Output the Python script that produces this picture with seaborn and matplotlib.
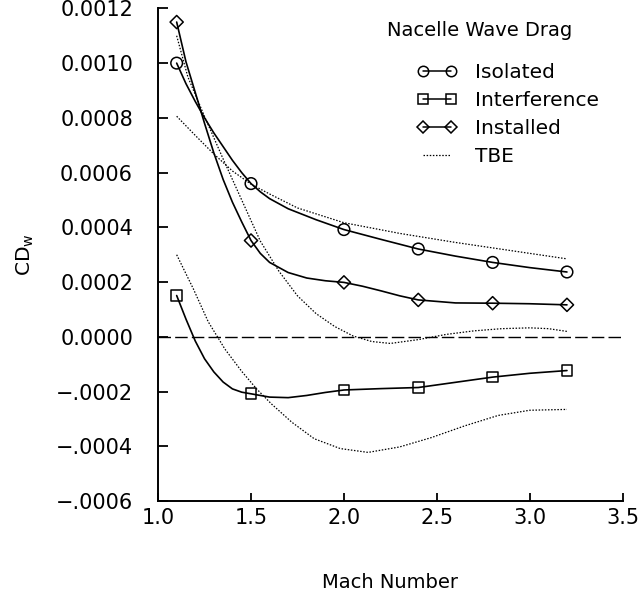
import numpy as np
import pandas as pd
import matplotlib
matplotlib.use('Agg')
import matplotlib.pyplot as plt
from matplotlib.lines import Line2D
import matplotlib.ticker as mticker
import seaborn as sns

sns.set_style('ticks')
plt.rcParams['font.family'] = ['DejaVu Sans']
plt.rcParams['mathtext.fontset'] = 'dejavusans'
for k in ['text.color', 'axes.labelcolor', 'xtick.color', 'ytick.color', 'axes.edgecolor']:
    plt.rcParams[k] = 'black'

# measured points (Mach, CDw)
mach = [1.1, 1.5, 2.0, 2.4, 2.8, 3.2]
isolated = [0.00100, 0.000560, 0.000392, 0.000321, 0.000272, 0.000237]
interference = [0.000151, -0.000208, -0.000194, -0.000185, -0.000147, -0.000123]
installed = [0.00115, 0.000352, 0.000199, 0.000135, 0.000123, 0.000117]

# faired curves through the points (x1e-3)
iso_cx = [1.10, 1.15, 1.20, 1.25, 1.30, 1.35, 1.40, 1.45, 1.50, 1.55, 1.60, 1.70,
          1.85, 2.00, 2.20, 2.40, 2.60, 2.80, 3.00, 3.20]
iso_cy = [1.000, 0.925, 0.860, 0.800, 0.745, 0.695, 0.645, 0.600, 0.560, 0.530,
          0.505, 0.468, 0.428, 0.392, 0.356, 0.321, 0.295, 0.272, 0.253, 0.237]
inst_cx = [1.10, 1.15, 1.20, 1.25, 1.30, 1.35, 1.40, 1.45, 1.50, 1.55, 1.60, 1.70,
           1.80, 1.90, 2.00, 2.10, 2.20, 2.30, 2.40, 2.60, 2.80, 3.00, 3.20]
inst_cy = [1.150, 1.005, 0.893, 0.780, 0.672, 0.575, 0.492, 0.420, 0.352, 0.305,
           0.272, 0.235, 0.215, 0.205, 0.199, 0.185, 0.168, 0.150, 0.135, 0.124,
           0.123, 0.121, 0.117]
intf_cx = [1.10, 1.15, 1.20, 1.25, 1.30, 1.35, 1.40, 1.45, 1.50, 1.60, 1.70, 1.80,
           1.90, 2.00, 2.20, 2.40, 2.60, 2.80, 3.00, 3.20]
intf_cy = [0.151, 0.065, -0.015, -0.080, -0.128, -0.165, -0.190, -0.202, -0.208,
           -0.220, -0.222, -0.214, -0.203, -0.194, -0.189, -0.185, -0.166, -0.147,
           -0.133, -0.123]

# TBE estimates (x1e-3)
tbe_iso_x = [1.10, 1.20, 1.30, 1.40, 1.50, 1.60, 1.75, 2.00, 2.30, 2.60, 2.90, 3.20]
tbe_iso_y = [0.806, 0.736, 0.668, 0.606, 0.558, 0.522, 0.471, 0.417, 0.378, 0.345,
             0.315, 0.285]
tbe_inst_x = [1.10, 1.16, 1.25, 1.35, 1.45, 1.55, 1.65, 1.75, 1.85, 1.95, 2.05, 2.15,
              2.25, 2.40, 2.55, 2.70, 2.85, 3.00, 3.10, 3.20]
tbe_inst_y = [1.100, 0.950, 0.805, 0.650, 0.500, 0.350, 0.240, 0.150, 0.085, 0.038,
              0.003, -0.017, -0.024, -0.010, 0.009, 0.022, 0.030, 0.033, 0.030, 0.020]
tbe_intf_x = [1.10, 1.19, 1.27, 1.36, 1.45, 1.53, 1.61, 1.72, 1.84, 1.98, 2.13, 2.30,
              2.47, 2.65, 2.83, 3.00, 3.20]
tbe_intf_y = [0.300, 0.175, 0.055, -0.045, -0.126, -0.190, -0.245, -0.312, -0.372,
              -0.408, -0.422, -0.402, -0.368, -0.325, -0.287, -0.268, -0.265]

yticks = [-0.0006, -0.0004, -0.0002, 0.0, 0.0002, 0.0004, 0.0006, 0.0008, 0.0010, 0.0012]
xticks = [1.0, 1.5, 2.0, 2.5, 3.0, 3.5]

fig = plt.figure(figsize=(6.4, 5.98), dpi=100)
ax = fig.add_axes([0.247, 0.162, 0.726, 0.824])

solid = dict(color='k', lw=1.2, sort=False, estimator=None, ax=ax)
dotted = dict(color='k', lw=0.9, linestyle=(0, (1.2, 1.3)), sort=False, estimator=None, ax=ax)

sns.lineplot(x=iso_cx, y=np.array(iso_cy) * 1e-3, **solid)
sns.lineplot(x=inst_cx, y=np.array(inst_cy) * 1e-3, **solid)
sns.lineplot(x=intf_cx, y=np.array(intf_cy) * 1e-3, **solid)
sns.lineplot(x=tbe_iso_x, y=np.array(tbe_iso_y) * 1e-3, **dotted)
sns.lineplot(x=tbe_inst_x, y=np.array(tbe_inst_y) * 1e-3, **dotted)
sns.lineplot(x=tbe_intf_x, y=np.array(tbe_intf_y) * 1e-3, **dotted)
ax.axhline(0, color='k', lw=1.0, linestyle=(0, (9, 3)))

mk = dict(facecolors='none', edgecolors='k', linewidths=1.1, zorder=4, ax=ax)
sns.scatterplot(x=mach, y=isolated, marker='o', s=70, **mk)
sns.scatterplot(x=mach, y=interference, marker='s', s=60, **mk)
sns.scatterplot(x=mach, y=installed, marker='D', s=45, **mk)

ax.set_xlim(1.0, 3.5)
ax.set_ylim(-0.0006, 0.0012)
ax.set_xticks(xticks)
ax.set_yticks(yticks)


def yfmt(v, pos):
    if v < -1e-9:
        return '\u2212' + f'{-v:.4f}'[1:]
    return f'{abs(v):.4f}'


ax.yaxis.set_major_formatter(mticker.FuncFormatter(yfmt))
ax.xaxis.set_major_formatter(mticker.FormatStrFormatter('%.1f'))
ax.tick_params(axis='both', direction='in', labelsize=15, width=1.3, color='k')
ax.tick_params(axis='y', length=7, pad=18)
ax.tick_params(axis='x', length=6, pad=5)
sns.despine(ax=ax)
for s in ['left', 'bottom']:
    ax.spines[s].set_linewidth(1.4)
    ax.spines[s].set_color('k')

ax.set_xlabel('Mach Number', fontsize=14, labelpad=32)
ax.set_ylabel(r'CD$_\mathrm{w}$', fontsize=14.5, labelpad=14)

ax.text(0.492, 0.955, 'Nacelle Wave Drag', transform=ax.transAxes,
        fontsize=14, va='center', ha='left')
handles = [
    Line2D([], [], color='k', lw=1.1, marker='o', ms=7.5, mfc='none', mew=1.1),
    Line2D([], [], color='k', lw=1.1, marker='s', ms=7, mfc='none', mew=1.1),
    Line2D([], [], color='k', lw=1.1, marker='D', ms=6, mfc='none', mew=1.1),
    Line2D([], [], color='k', lw=0.9, linestyle=(0, (1.2, 1.3))),
]
labels = ['Isolated', 'Interference', 'Installed', 'TBE']
ax.legend(handles, labels, loc='upper left', bbox_to_anchor=(0.557, 0.89),
          frameon=False, fontsize=14.5, numpoints=2, handlelength=2.0,
          handletextpad=0.9, labelspacing=0.45, borderpad=0, borderaxespad=0)

fig.savefig('out.png', dpi=100)
